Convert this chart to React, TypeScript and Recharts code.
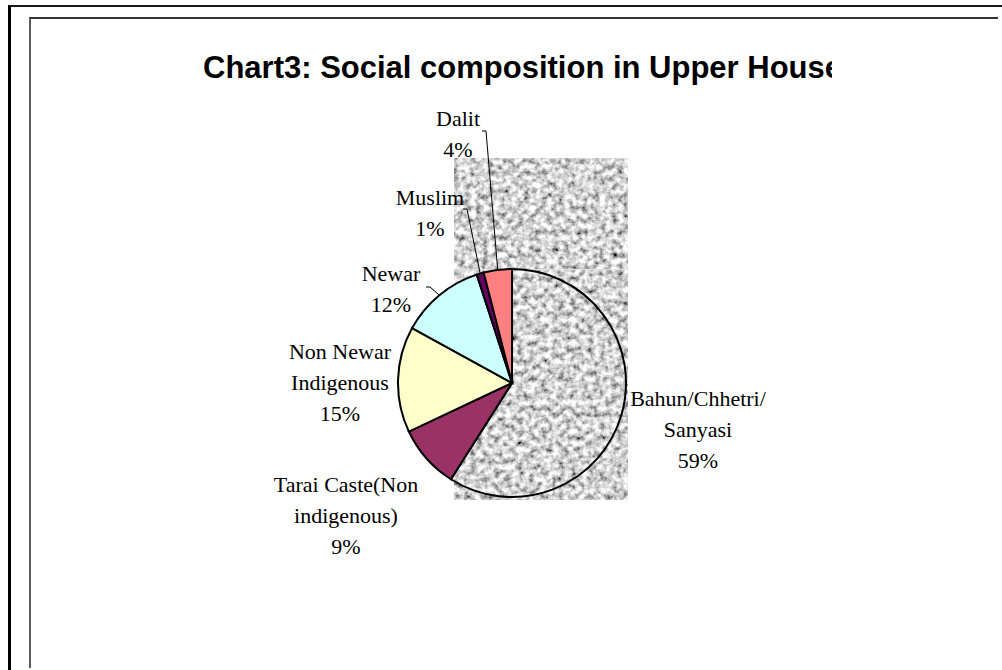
import React from "react";
import { PieChart, Pie, Cell } from "recharts";

const CATEGORIES = [
  "Bahun/Chhetri/Sanyasi",
  "Tarai Caste(Non indigenous)",
  "Non Newar Indigenous",
  "Newar",
  "Muslim",
  "Dalit",
];
const SHARES = [59, 9, 15, 12, 1, 4];
const LABEL_LINES = [
  ["Bahun/Chhetri/", "Sanyasi"],
  ["Tarai Caste(Non", "indigenous)"],
  ["Non Newar", "Indigenous"],
  ["Newar"],
  ["Muslim"],
  ["Dalit"],
];

// first slice is left unfilled so the granite panel behind shows through
const COLORS = ["none", "#993366", "#FFFFCC", "#CCFFFF", "#660066", "#FF8080"];

const CX = 512;
const CY = 383;
const RADIUS = 114;
const LINE_GAP = 31;
const SERIF = "'Times New Roman', 'Liberation Serif', serif";

// label block centres relative to the pie centre; some get a leader line
const LABEL_SPOTS = [
  { dx: 186, dy: 46 },
  { dx: -166, dy: 132 },
  { dx: -172, dy: -1 },
  { dx: -121, dy: -95, leader: [39, -1] },
  { dx: -82, dy: -171, leader: [37, -3] },
  { dx: -54, dy: -250, leader: [28, -2] },
];

const data = CATEGORIES.map((name, i) => ({ name, value: SHARES[i] }));

const renderLabel = (props: any) => {
  const { cx, cy, midAngle, outerRadius, index } = props;
  const spot = LABEL_SPOTS[index];
  const x = cx + spot.dx;
  const y = cy + spot.dy;
  const lines = [...LABEL_LINES[index], `${SHARES[index]}%`];
  const top = y - ((lines.length - 1) * LINE_GAP) / 2;
  let leader = null;
  if (spot.leader) {
    const rad = (-midAngle * Math.PI) / 180;
    const ex = cx + outerRadius * Math.cos(rad);
    const ey = cy + outerRadius * Math.sin(rad);
    const sx = x + spot.leader[0];
    const sy = y + spot.leader[1];
    leader = (
      <polyline
        points={`${sx - 4},${sy} ${sx},${sy} ${ex},${ey}`}
        fill="none"
        stroke="#000"
        strokeWidth={1}
      />
    );
  }
  return (
    <g key={`lbl-${index}`}>
      {leader}
      <text
        x={x}
        y={top}
        textAnchor="middle"
        dominantBaseline="central"
        fontFamily={SERIF}
        fontSize={22}
        fill="#000"
      >
        {lines.map((t, k) => (
          <tspan key={k} x={x} y={top + k * LINE_GAP}>
            {t}
          </tspan>
        ))}
      </text>
    </g>
  );
};

export default function App() {
  return (
    <div
      style={{
        position: "absolute",
        left: 0,
        top: 0,
        width: 1002,
        height: 670,
        overflow: "hidden",
        background: "#fff",
      }}
    >
      {/* outer sheet frame */}
      <div
        style={{
          position: "absolute",
          left: 8,
          top: 5,
          width: 1100,
          height: 800,
          borderLeft: "3px solid #000",
          borderTop: "2px solid #1a1a1a",
        }}
      />
      {/* chart area frame */}
      <div
        style={{
          position: "absolute",
          left: 29,
          top: 17,
          width: 967,
          height: 649,
          borderLeft: "2px solid #5a5a5a",
          borderTop: "2px solid #333",
        }}
      />

      {/* granite panel */}
      <svg
        width={1002}
        height={670}
        style={{ position: "absolute", left: 0, top: 0 }}
      >
        <defs>
          <filter
            id="granite"
            filterUnits="userSpaceOnUse"
            x={454}
            y={158}
            width={174}
            height={342}
          >
            <feTurbulence
              type="fractalNoise"
              baseFrequency="0.17"
              numOctaves={3}
              seed={11}
              result="noise"
            />
            <feColorMatrix
              in="noise"
              type="matrix"
              values="1.7 0 0 0 -0.2  1.7 0 0 0 -0.2  1.7 0 0 0 -0.2  0 0 0 0 1"
              result="grey"
            />
            <feGaussianBlur in="grey" stdDeviation="0.7" result="soft" />
            <feComposite in="soft" in2="SourceGraphic" operator="in" />
          </filter>
        </defs>
        <rect x={454} y={158} width={174} height={342} fill="#aaa" filter="url(#granite)" />
        <line x1={454} y1={269.5} x2={628} y2={269.5} stroke="#e0e0e0" strokeWidth={1} />
      </svg>

      <div style={{ position: "absolute", left: 0, top: 0 }}>
        <PieChart width={1002} height={670} margin={{ top: 0, right: 0, bottom: 0, left: 0 }}>
          <Pie
            data={data}
            dataKey="value"
            nameKey="name"
            cx={CX}
            cy={CY}
            outerRadius={RADIUS}
            startAngle={90}
            endAngle={-270}
            stroke="#000"
            strokeWidth={2}
            label={renderLabel}
            labelLine={false}
            isAnimationActive={false}
          >
            {data.map((d, i) => (
              <Cell key={d.name} fill={COLORS[i]} stroke="#000" strokeWidth={2} />
            ))}
          </Pie>
        </PieChart>
      </div>

      {/* title box is narrower than its text, so the last letter is clipped */}
      <div
        style={{
          position: "absolute",
          left: 203,
          top: 49,
          width: 629,
          overflow: "hidden",
          whiteSpace: "nowrap",
          fontFamily: "Arial, 'Liberation Sans', sans-serif",
          fontWeight: "bold",
          fontSize: 31,
          lineHeight: "38px",
          color: "#000",
        }}
      >
        Chart3: Social composition in Upper House
      </div>
    </div>
  );
}
